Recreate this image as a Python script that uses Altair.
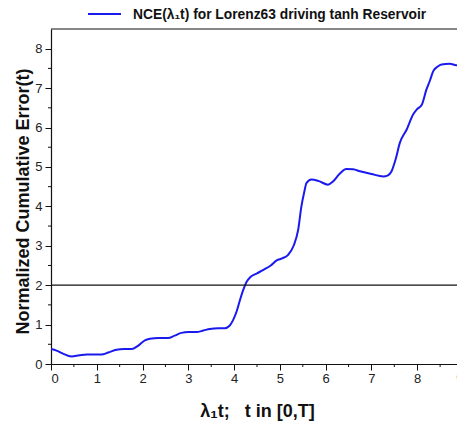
import altair as alt
import pandas as pd

# ---- data ----
x_vals = [0.0, 0.12, 0.25, 0.45, 0.62, 0.78, 0.95, 1.1, 1.25, 1.43, 1.6, 1.76, 1.9, 2.05, 2.16, 2.35, 2.56,
          2.7, 2.85, 3.0, 3.18, 3.33, 3.47, 3.65, 3.8, 3.9, 3.98, 4.06, 4.13, 4.2, 4.28, 4.35, 4.5, 4.64,
          4.8, 4.93, 5.05, 5.18, 5.3, 5.4, 5.47, 5.53, 5.58, 5.69, 5.85, 6.05, 6.16, 6.3, 6.45, 6.6, 6.75,
          7.0, 7.26, 7.35, 7.44, 7.53, 7.62, 7.77, 7.91, 8.0, 8.1, 8.2, 8.28, 8.35, 8.45, 8.53, 8.71, 8.85, 9.0]
y_vals = [0.38, 0.34, 0.27, 0.19, 0.22, 0.24, 0.24, 0.24, 0.29, 0.36, 0.38, 0.38, 0.46, 0.6, 0.64, 0.66, 0.66,
          0.72, 0.79, 0.81, 0.81, 0.85, 0.89, 0.91, 0.91, 0.97, 1.12, 1.35, 1.63, 1.88, 2.1, 2.2, 2.3, 2.39,
          2.5, 2.63, 2.68, 2.77, 3.0, 3.41, 4.0, 4.35, 4.59, 4.68, 4.64, 4.55, 4.63, 4.82, 4.95, 4.94, 4.89,
          4.82, 4.76, 4.78, 4.89, 5.2, 5.61, 5.95, 6.33, 6.47, 6.58, 6.96, 7.2, 7.43, 7.55, 7.6, 7.62, 7.58, 7.57]
x_major = list(range(0, 10))
y_major = list(range(0, 9))
x_minor = [0.5, 1.5, 2.5, 3.5, 4.5, 5.5, 6.5, 7.5, 8.5]
y_minor = [0.5, 1.5, 2.5, 3.5, 4.5, 5.5, 6.5, 7.5]
threshold = [2]
legend_label = "NCE(λ₁t) for Lorenz63 driving tanh Reservoir"
x_title = "λ₁t;\u00a0\u00a0\u00a0t in [0,T]"
y_title = "Normalized Cumulative Error(t)"

W, H = 412, 335
FONT = "Liberation Sans"

df = pd.DataFrame({"x": x_vals, "y": y_vals})
xs = alt.Scale(domain=[0, 9], nice=False, zero=False)
ys = alt.Scale(domain=[0, 8.5], nice=False, zero=False)

line = alt.Chart(df).mark_line(color="#1a1aee", strokeWidth=2, interpolate="monotone", clip=True).encode(
    x=alt.X("x:Q", scale=xs, title=x_title,
            axis=alt.Axis(values=x_major, format="d", titleFontSize=18, titleFontWeight="bold",
                          titlePadding=17, labelPadding=2)),
    y=alt.Y("y:Q", scale=ys, title=y_title,
            axis=alt.Axis(values=y_major, format="d", titleFontSize=18, titleFontWeight="bold",
                          titleX=-19, titleY=172, titleBaseline="bottom", labelPadding=3)),
)

hline = alt.Chart(pd.DataFrame({"t": threshold})).mark_rule(color="#111", strokeWidth=1.2).encode(
    y=alt.Y("t:Q", scale=ys), x=alt.value(0), x2=alt.value(W + 20))

top_frame = alt.Chart(pd.DataFrame({"t": [8.5]})).mark_rule(color="#111", strokeWidth=1.2).encode(
    y=alt.Y("t:Q", scale=ys), x=alt.value(0), x2=alt.value(W + 20))

xminor = alt.Chart(pd.DataFrame({"m": x_minor})).mark_rule(color="#111", strokeWidth=1).encode(
    x=alt.X("m:Q", scale=xs), y=alt.value(H), y2=alt.value(H + 3))

yminor = alt.Chart(pd.DataFrame({"m": y_minor})).mark_rule(color="#111", strokeWidth=1).encode(
    y=alt.Y("m:Q", scale=ys), x=alt.value(-3), x2=alt.value(0))

leg_line = alt.Chart(pd.DataFrame({"l": [legend_label]})).mark_rule(color="#1a1aee", strokeWidth=2).encode(
    x=alt.value(37), x2=alt.value(70), y=alt.value(-15))

leg_text = alt.Chart(pd.DataFrame({"l": [legend_label]})).mark_text(
    align="left", baseline="alphabetic", font=FONT, fontSize=13.8, fontWeight="bold", color="#111").encode(
    text="l:N", x=alt.value(82), y=alt.value(-10))

chart = alt.layer(line, hline, top_frame, xminor, yminor, leg_line, leg_text).properties(
    width=W, height=H,
    autosize=alt.AutoSizeParams(type="none"),
    padding={"left": 43, "top": 21, "right": -6, "bottom": 60},
).configure_view(stroke=None).configure_axis(
    domainColor="#111", tickColor="#111", labelColor="#222", titleColor="#111",
    labelFont=FONT, titleFont=FONT, labelFontSize=13, tickSize=6,
    grid=False, domainWidth=1.2, tickWidth=1,
)

chart.save("out.html", embed_options={"renderer": "svg", "actions": False})
